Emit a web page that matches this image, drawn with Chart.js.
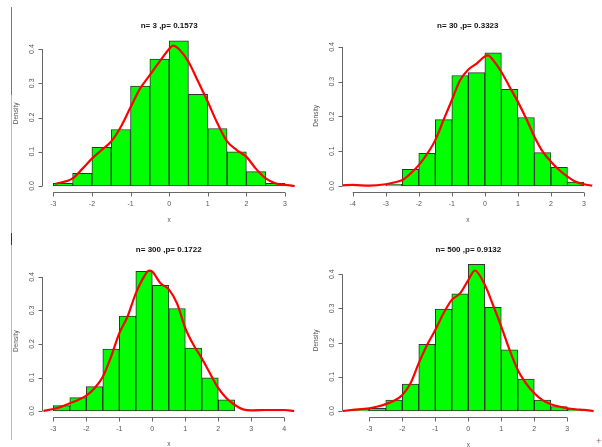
<!DOCTYPE html>
<html>
<head>
<meta charset="utf-8">
<script src="https://cdn.jsdelivr.net/npm/chart.js@4/dist/chart.umd.min.js"></script>
<style>
  body { margin: 0; background: #fff; width: 602px; height: 447px; overflow: hidden; position: relative; }
  canvas { position: absolute; }
  #edge { position: absolute; left: 11px; top: 7px; width: 1px; height: 433px; background: #b8b8b8; }
  #edge1 { position: absolute; left: 11px; top: 7px; width: 1px; height: 88px; background: #6b7b92; }
  #edge2 { position: absolute; left: 11px; top: 233px; width: 1px; height: 12px; background: #334; }
  #plus { position: absolute; left: 596px; top: 436px; font: 9px "Liberation Sans", Arial, sans-serif; color: #777; }
</style>
</head>
<body>
<div id="edge"></div><div id="edge1"></div><div id="edge2"></div>
<div id="plus">+</div>
<canvas id="c1" width="301" height="223" style="left:0;top:0"></canvas>
<canvas id="c2" width="301" height="223" style="left:301px;top:0"></canvas>
<canvas id="c3" width="301" height="224" style="left:0;top:223px"></canvas>
<canvas id="c4" width="301" height="224" style="left:301px;top:223px"></canvas>
<script>
// histogram bin midpoints (bin width 0.5) and densities
const mids1 = [-2.75, -2.25, -1.75, -1.25, -0.75, -0.25, 0.25, 0.75, 1.25, 1.75, 2.25, 2.75];
const hist1 = [0.008, 0.037, 0.113, 0.165, 0.292, 0.371, 0.424, 0.268, 0.168, 0.100, 0.042, 0.008];
const mids2 = [-2.75, -2.25, -1.75, -1.25, -0.75, -0.25, 0.25, 0.75, 1.25, 1.75, 2.25, 2.75];
const hist2 = [0.005, 0.048, 0.094, 0.191, 0.318, 0.326, 0.383, 0.278, 0.197, 0.096, 0.054, 0.011];
const mids3 = [-2.75, -2.25, -1.75, -1.25, -0.75, -0.25, 0.25, 0.75, 1.25, 1.75, 2.25, 2.75, 3.25, 3.75];
const hist3 = [0.016, 0.040, 0.073, 0.185, 0.283, 0.417, 0.375, 0.306, 0.188, 0.099, 0.033, 0, 0, 0.005];
const mids4 = [-3.25, -2.75, -2.25, -1.75, -1.25, -0.75, -0.25, 0.25, 0.75, 1.25, 1.75, 2.25, 2.75, 3.25];
const hist4 = [0.005, 0.008, 0.032, 0.079, 0.195, 0.298, 0.343, 0.429, 0.303, 0.179, 0.093, 0.032, 0.013, 0.005];

// kernel density curves
const kx1 = [-2.95, -2.5, -2.25, -2, -1.75, -1.5, -1.25, -1, -0.75, -0.5, -0.25, 0, 0.1, 0.25, 0.5, 0.75, 1, 1.25, 1.5, 1.75, 2, 2.25, 2.5, 2.75, 3, 3.25];
const ky1 = [0.006, 0.022, 0.05, 0.08, 0.105, 0.13, 0.173, 0.23, 0.285, 0.324, 0.363, 0.40, 0.41, 0.40, 0.363, 0.305, 0.246, 0.183, 0.13, 0.105, 0.085, 0.05, 0.022, 0.008, 0.003, 0];
const kx2 = [-4.3, -4, -3.5, -3, -2.75, -2.5, -2.25, -2, -1.75, -1.5, -1.25, -1, -0.75, -0.5, -0.25, 0, 0.1, 0.25, 0.5, 0.75, 1, 1.25, 1.5, 1.75, 2, 2.25, 2.5, 2.75, 3, 3.25];
const ky2 = [0.002, 0.003, 0.001, 0.005, 0.01, 0.017, 0.036, 0.06, 0.092, 0.132, 0.19, 0.247, 0.304, 0.335, 0.352, 0.373, 0.376, 0.362, 0.328, 0.285, 0.242, 0.194, 0.142, 0.099, 0.07, 0.046, 0.027, 0.012, 0.005, 0.001];
const kx3 = [-3.3, -3, -2.75, -2.5, -2.25, -2, -1.75, -1.5, -1.25, -1, -0.75, -0.5, -0.25, -0.1, 0, 0.25, 0.5, 0.75, 1, 1.25, 1.5, 1.75, 2, 2.25, 2.5, 2.75, 3, 3.5, 4, 4.3];
const ky3 = [0, 0.006, 0.013, 0.023, 0.033, 0.046, 0.068, 0.102, 0.162, 0.232, 0.282, 0.351, 0.401, 0.419, 0.416, 0.381, 0.363, 0.321, 0.247, 0.197, 0.157, 0.112, 0.068, 0.038, 0.018, 0.005, 0.002, 0.003, 0.003, 0];
const kx4 = [-3.8, -3.5, -3, -2.75, -2.5, -2.25, -2, -1.75, -1.5, -1.25, -1, -0.75, -0.5, -0.25, 0, 0.2, 0.5, 0.75, 1, 1.25, 1.5, 1.75, 2, 2.25, 2.5, 2.75, 3, 3.25, 3.5, 3.8];
const ky4 = [0, 0.003, 0.008, 0.013, 0.02, 0.03, 0.047, 0.081, 0.14, 0.193, 0.237, 0.286, 0.325, 0.344, 0.383, 0.411, 0.369, 0.31, 0.247, 0.179, 0.12, 0.081, 0.052, 0.032, 0.02, 0.013, 0.008, 0.005, 0.003, 0];

const titles = ['n= 3 ,p= 0.1573', 'n= 30 ,p= 0.3323', 'n= 300 ,p= 0.1722', 'n= 500 ,p= 0.9132'];
const xTicks1 = [-3, -2, -1, 0, 1, 2, 3];
const xTicks2 = [-4, -3, -2, -1, 0, 1, 2, 3];
const xTicks3 = [-3, -2, -1, 0, 1, 2, 3, 4];
const xTicks4 = [-3, -2, -1, 0, 1, 2, 3];
const yTicks = [0, 0.1, 0.2, 0.3, 0.4];

const FONT = '"Liberation Sans", Arial, sans-serif';

// draws R-like base graphics axes using the chart scales
const rAxes = {
    id: 'rAxes',
    afterDraw(chart, args, o) {
        const ctx = chart.ctx;
        const a = chart.chartArea;
        const xs = chart.scales.x, ys = chart.scales.y;
        ctx.save();
        ctx.strokeStyle = '#666';
        ctx.fillStyle = '#555';
        ctx.lineWidth = 1;

        // y axis
        const yx = Math.round(a.left) + 0.5;
        ctx.beginPath();
        ctx.moveTo(yx, ys.getPixelForValue(yTicks[0]));
        ctx.lineTo(yx, ys.getPixelForValue(yTicks[yTicks.length - 1]));
        yTicks.forEach(t => {
            const py = Math.round(ys.getPixelForValue(t)) + 0.5;
            ctx.moveTo(yx, py);
            ctx.lineTo(yx - 4, py);
        });
        ctx.stroke();
        ctx.font = '7px ' + FONT;
        ctx.textAlign = 'center';
        ctx.textBaseline = 'middle';
        yTicks.forEach(t => {
            ctx.save();
            ctx.translate(a.left - 10, ys.getPixelForValue(t));
            ctx.rotate(-Math.PI / 2);
            ctx.fillText(t.toFixed(1), 0, 0);
            ctx.restore();
        });

        // x axis
        const xy = Math.round(a.bottom) + 0.5;
        ctx.beginPath();
        ctx.moveTo(xs.getPixelForValue(o.xTicks[0]), xy);
        ctx.lineTo(xs.getPixelForValue(o.xTicks[o.xTicks.length - 1]), xy);
        o.xTicks.forEach(t => {
            const px = Math.round(xs.getPixelForValue(t)) + 0.5;
            ctx.moveTo(px, xy);
            ctx.lineTo(px, xy + 4);
        });
        ctx.stroke();
        o.xTicks.forEach(t => {
            ctx.fillText(String(t), xs.getPixelForValue(t), a.bottom + 12);
        });

        // axis titles
        ctx.font = '6.5px ' + FONT;
        ctx.fillText('x', (a.left + a.right) / 2, a.bottom + 28);
        ctx.save();
        ctx.translate(a.left - 25, (a.top + a.bottom) / 2);
        ctx.rotate(-Math.PI / 2);
        ctx.fillText('Density', 0, 0);
        ctx.restore();

        // main title
        ctx.fillStyle = '#111';
        ctx.font = 'bold 8px ' + FONT;
        ctx.fillText(o.title, (a.left + a.right) / 2, o.titleY);
        ctx.restore();
    }
};

function makePanel(id, mids, hist, kx, ky, title, xTicks, lim, pad, titleY) {
    const bars = mids.map((m, i) => ({ x: m, y: hist[i] }));
    const curve = kx.map((x, i) => ({ x: x, y: ky[i] }));
    return new Chart(document.getElementById(id), {
        type: 'bar',
        data: {
            datasets: [{
                type: 'line',
                data: curve,
                borderColor: '#ff0000',
                borderWidth: 2.2,
                pointRadius: 0,
                cubicInterpolationMode: 'monotone',
                fill: false,
                order: 0
            }, {
                type: 'bar',
                data: bars,
                backgroundColor: '#00ff00',
                borderColor: '#333',
                borderWidth: 1,
                borderSkipped: false,
                barPercentage: 1,
                categoryPercentage: 1,
                order: 1
            }]
        },
        options: {
            responsive: false,
            animation: false,
            layout: { padding: pad },
            plugins: {
                legend: { display: false },
                tooltip: { enabled: false },
                rAxes: { title: title, xTicks: xTicks, titleY: titleY }
            },
            scales: {
                x: { type: 'linear', min: lim[0], max: lim[1], offset: false, display: false },
                y: { type: 'linear', min: lim[2], max: lim[3], display: false }
            }
        },
        plugins: [rAxes]
    });
}

makePanel('c1', mids1, hist1, kx1, ky1, titles[0], xTicks1, [-3.3, 3.3, -0.017, 0.441],
    { left: 41.7, right: 4.4, top: 35, bottom: 31.2 }, 25.5);
makePanel('c2', mids2, hist2, kx2, ky2, titles[1], xTicks2, [-4.333, 3.3, -0.0167, 0.42],
    { left: 40.7, right: 8.1, top: 40, bottom: 31.2 }, 25.5);
makePanel('c3', mids3, hist3, kx3, ky3, titles[2], xTicks3, [-3.352, 4.35, -0.017, 0.434],
    { left: 41.7, right: 5.15, top: 42.6, bottom: 30.3 }, 27);
makePanel('c4', mids4, hist4, kx4, ky4, titles[3], xTicks4, [-3.836, 3.84, -0.017, 0.43],
    { left: 40.7, right: 7, top: 41, bottom: 30.2 }, 27);
</script>
</body>
</html>
